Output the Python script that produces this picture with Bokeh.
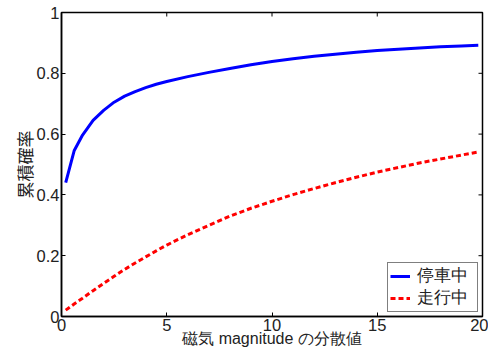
import math
from bokeh.plotting import figure
from bokeh.models import FixedTicker, PrintfTickFormatter, Legend, LegendItem
from bokeh.embed import file_html
from bokeh.resources import INLINE

# data
x_vals = [0.2, 0.6, 1.0, 1.5, 2, 2.5, 3, 3.5, 4, 4.5, 5, 6, 7, 8, 9, 10,
          11, 12, 13, 14, 15, 16, 17, 18, 19, 19.8]
stopped = [0.44, 0.545, 0.597, 0.645, 0.678, 0.705, 0.725, 0.740, 0.753, 0.764,
           0.773, 0.789, 0.803, 0.816, 0.828, 0.839, 0.848, 0.856, 0.863, 0.869,
           0.875, 0.879, 0.883, 0.887, 0.890, 0.892]
moving = [0.021, 0.041, 0.060, 0.085, 0.109, 0.132, 0.155, 0.176, 0.196, 0.216,
          0.235, 0.269, 0.300, 0.330, 0.356, 0.379, 0.401, 0.421, 0.440, 0.458,
          0.475, 0.490, 0.505, 0.518, 0.531, 0.541]
x_ticks = [0, 5, 10, 15, 20]
y_ticks = [0, 0.2, 0.4, 0.6, 0.8, 1.0]
series_names = ["停車中", "走行中"]
x_label = "磁気 magnitude の分散値"
y_label = "累積確率"

TICK_FONT = "Liberation Sans"
JP_FONT = "Noto Sans CJK JP"
X_MAX = x_ticks[-1]
Y_MAX = y_ticks[-1]

p = figure(frame_width=421, frame_height=304,
           x_range=(x_ticks[0], X_MAX), y_range=(y_ticks[0], Y_MAX),
           output_backend="svg", toolbar_location=None,
           min_border_left=61, min_border_top=12, min_border_right=6,
           min_border_bottom=34, background_fill_color="white",
           border_fill_color="white")
p.xgrid.visible = False
p.ygrid.visible = False
p.outline_line_color = "black"
p.outline_line_width = 1.5

r1 = p.line(x_vals, stopped, line_color="#0000ff", line_width=3)
r2 = p.line(x_vals, moving, line_color="#ff0000", line_width=3, line_dash="5 3")

# mirrored inward ticks on top and right edges (clipped to frame -> half visible)
p.scatter(x=x_ticks, y=[Y_MAX] * len(x_ticks), marker="dash", size=8,
          angle=math.pi / 2, line_color="black", line_width=1)
p.scatter(x=[X_MAX] * len(y_ticks), y=y_ticks, marker="dash", size=8,
          angle=0, line_color="black", line_width=1)

xa = p.xaxis[0]
ya = p.yaxis[0]
for ax, ticks in ((xa, x_ticks), (ya, y_ticks)):
    ax.ticker = FixedTicker(ticks=ticks)
    ax.formatter = PrintfTickFormatter(format="%g")
    ax.major_tick_in = 4
    ax.major_tick_out = 0
    ax.minor_tick_in = 0
    ax.minor_tick_out = 0
    ax.axis_line_color = "black"
    ax.axis_line_width = 1.5
    ax.major_tick_line_color = "black"
    ax.major_tick_line_width = 1
    ax.major_label_text_font = TICK_FONT
    ax.major_label_text_font_size = "16.5px"
    ax.major_label_text_color = "#222222"
    ax.axis_label_text_font_size = "16px"
    ax.axis_label_text_font_style = "normal"
    ax.axis_label_text_color = "#222222"
xa.major_label_standoff = 2
ya.major_label_standoff = 2
ya.axis_label = y_label
ya.axis_label_text_font = JP_FONT
ya.axis_label_text_font_size = "17px"
ya.axis_label_standoff = -3
xa.axis_label = x_label
xa.axis_label_text_font = TICK_FONT
xa.axis_label_standoff = -4

legend = Legend(items=[LegendItem(label=series_names[0], renderers=[r1]),
                       LegendItem(label=series_names[1], renderers=[r2])],
                location="bottom_right")
legend.margin = 4
legend.padding = 2
legend.spacing = -3
legend.border_line_color = "black"
legend.border_line_width = 1
legend.background_fill_alpha = 1
legend.label_text_font = TICK_FONT
legend.label_text_font_size = "16.5px"
legend.label_text_color = "#222222"
legend.glyph_width = 20
legend.glyph_height = 18
legend.label_height = 18
legend.label_width = 58
legend.label_standoff = 7
p.add_layout(legend, "center")

open("out.html", "w").write(file_html(p, INLINE))
